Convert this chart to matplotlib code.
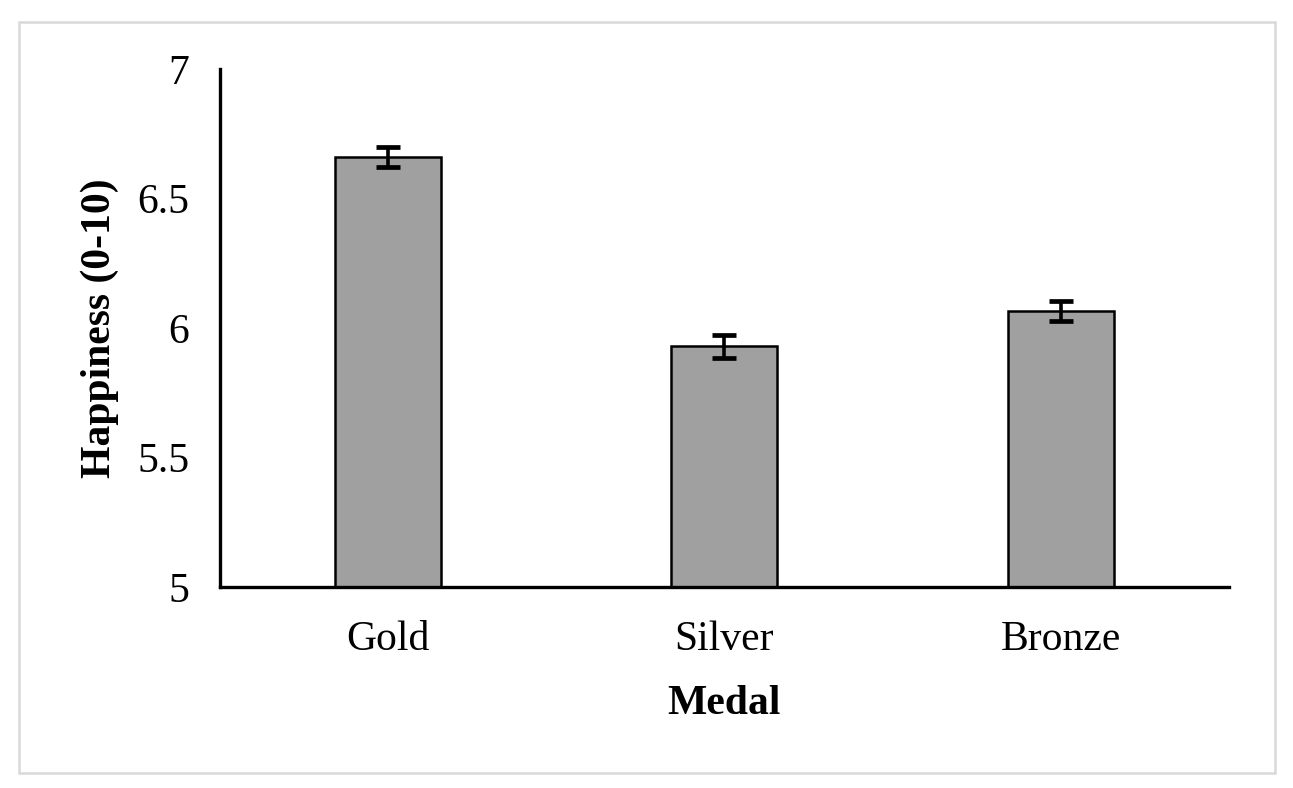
import numpy as np
import matplotlib.pyplot as plt
from matplotlib.patches import Rectangle

# data
medals = ["Gold", "Silver", "Bronze"]
happiness = [6.66, 5.93, 6.065]
errors = [0.039, 0.044, 0.039]

plt.rcParams['font.family'] = ['Liberation Serif', 'DejaVu Serif']

fig = plt.figure(figsize=(12.93, 7.88), dpi=100)
ax = fig.add_axes([0.170, 0.255, 0.7805, 0.6576])

x = np.arange(len(medals))
ax.bar(x, [h - 5 for h in happiness], bottom=5, width=0.315,
       color='#a0a0a0', edgecolor='black', linewidth=1.8, zorder=2)
ax.errorbar(x, happiness, yerr=errors, fmt='none', ecolor='black',
            elinewidth=2.6, capsize=8.3, capthick=3.4, zorder=3)

ax.set_xlim(-0.5, 2.5)
ax.set_ylim(5, 7)
ax.set_yticks([5, 5.5, 6, 6.5, 7])
ax.set_yticklabels(["5", "5.5", "6", "6.5", "7"])
ax.set_xticks(x)
ax.set_xticklabels(medals)
ax.tick_params(axis='both', length=0, labelsize=30)
ax.tick_params(axis='y', pad=22)
ax.tick_params(axis='x', pad=24)

for s in ['top', 'right']:
    ax.spines[s].set_visible(False)
for s in ['left', 'bottom']:
    ax.spines[s].set_linewidth(2.4)

ax.set_xlabel("Medal", fontsize=30, fontweight='bold', labelpad=19)
ax.set_ylabel("Happiness (0-10)", fontsize=30, fontweight='bold', labelpad=13)

# light frame around the whole chart
fig.patches.append(Rectangle((0.0147, 0.019), 0.9714, 0.953, transform=fig.transFigure,
                             fill=False, edgecolor='#d9d9d9', linewidth=1.8))

fig.savefig("out.png", dpi=100)
